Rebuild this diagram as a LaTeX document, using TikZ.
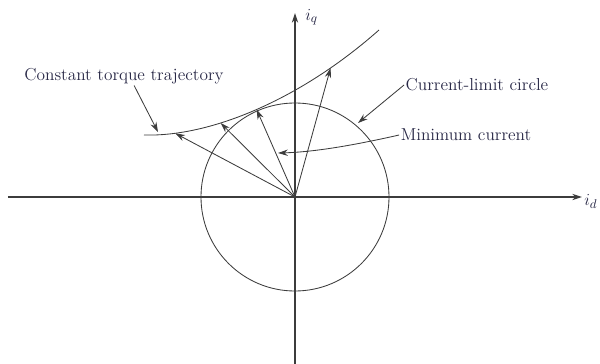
\documentclass[tikz,border=0pt]{standalone}
\usepackage{tikz}
\usetikzlibrary{arrows.meta, positioning, calc}
\definecolor{inkline}{RGB}{60,60,60}
\definecolor{inktext}{RGB}{40,40,70}
\tikzset{
  axis_line/.style={-{Stealth[length=7pt,width=4.5pt]}, line width=0.8pt, inkline},
  vec_arrow/.style={-{Stealth[length=7pt,width=4.5pt]}, line width=0.6pt, inkline},
  curve_line/.style={line width=0.6pt, inkline},
  label_text/.style={font=\fontsize{12.3}{14}\selectfont, text=inktext, inner sep=1pt},
  axis_label/.style={font=\fontsize{12.3}{14}\selectfont, text=inktext, inner sep=0pt}
}
\begin{document}
\begin{tikzpicture}[x=0.025cm, y=0.025cm]
  \useasboundingbox (-295,-166) rectangle (305,197);
  % Axes
  \coordinate (O) at (0,0);
  \coordinate (dl) at (-287,0);
  \coordinate (dr) at (287,0);
  \coordinate (qb) at (0,-170);
  \coordinate (qt) at (0,184);
  \draw [axis_line] (dl) -- (dr);
  \draw [axis_line] (qb) -- (qt);
  \node (iq) [axis_label, anchor=west] at (10,180) {$i_q$};
  \node (id) [axis_label, anchor=west] at (289,-4) {$i_d$};

  % Current-limit circle
  \draw [curve_line] (O) circle [radius=94];

  % Constant torque trajectory
  \draw [curve_line] (-151,62) .. controls (-85,60) and (5,97) .. (84,167)
    coordinate [pos=0.15] (v1)
    coordinate [pos=0.35] (v2)
    coordinate [pos=0.5] (v3)
    coordinate [pos=0.8] (v4);

  % Current vectors
  \foreach \v in {v1, v2, v3, v4} {
    \draw [vec_arrow] (O) -- (\v);
  }

  % Labels
  \node (ctt) [label_text] at (-171,121) {Constant torque trajectory};
  \node (clc) [label_text] at (182,112) {Current-limit circle};
  \node (minc) [label_text] at (171,62) {Minimum current};

  \coordinate (ctt_tip) at (-137,65);
  \coordinate (clc_tip) at (63,74);
  \coordinate (minc_tip) at (-17,44);
  \draw [vec_arrow] ($(ctt.south west)!0.55!(ctt.south east)$) -- (ctt_tip);
  \draw [vec_arrow] (clc.west) -- (clc_tip);
  \draw [vec_arrow] (minc.west) .. controls (60,52) and (20,45) .. (minc_tip);
\end{tikzpicture}
\end{document}
